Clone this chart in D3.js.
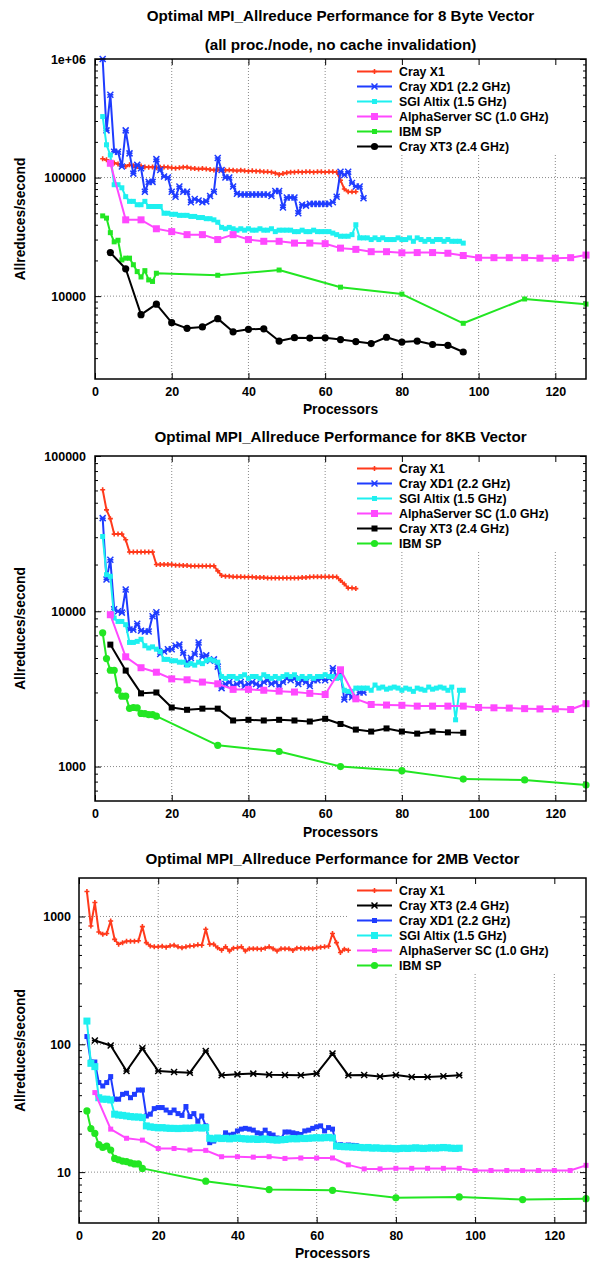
<!DOCTYPE html>
<html>
<head>
<meta charset="utf-8">
<script src="https://cdn.jsdelivr.net/npm/d3@7"></script>
<style>
body { margin: 0; background: #fff; }
svg text { font-family: "Liberation Sans", Arial, Helvetica, sans-serif; font-weight: bold; fill: #000; }
</style>
</head>
<body>
<svg id="chart" width="597" height="1262"></svg>
<script>
// ---- processor counts ----
const procs2to68 = d3.range(2, 69);
const procs2to70 = d3.range(2, 71);
const procs2to96 = d3.range(2, 97);
const procsBy4to128 = d3.range(4, 129, 4);
const procsBy4to96 = d3.range(4, 97, 4);
const procsIbm = [2, 3, 4, 5, 6, 7, 8, 9, 10, 11, 12, 13, 14, 15, 16, 32, 48, 64, 80, 96, 112, 128];
const xTicks = [0, 20, 40, 60, 80, 100, 120];

// ---- 8 Byte vector ----
const byte8X1 = [144000, 141000, 137000, 133000, 130000, 127000, 124000, 128000, 126000, 124000, 125000, 123000, 122000, 123000,
  121000, 122000, 123000, 122000, 121000, 120000, 121000, 122000, 122000, 120000, 119000, 118000, 119000, 118000, 117000, 116000,
  117000, 116000, 115000, 116000, 115000, 114000, 115000, 114000, 113000, 114000, 113000, 113000, 112000, 112000, 111000, 109000,
  106000, 108000, 110000, 111000, 111000, 112000, 111000, 112000, 112000, 111000, 112000, 112000, 111000, 112000, 112000, 111000,
  95000, 80000, 76000, 76000, 76000];
const byte8Xd1 = [1000000, 250000, 500000, 165000, 165000, 124000, 250000, 160000, 108000, 128000, 120000, 76000, 92000, 92000,
  143000, 116000, 102000, 100000, 76000, 69000, 84000, 76000, 76000, 62000, 66000, 64000, 62000, 63000, 70000, 76000, 146000,
  116000, 100000, 100000, 84000, 73000, 72000, 72000, 72000, 72000, 72000, 72000, 72000, 72000, 70000, 77000, 77000, 56000, 68000,
  68000, 68000, 50000, 59000, 58000, 60000, 60000, 60000, 60000, 60000, 60000, 62000, 69000, 112000, 105000, 112000, 90000, 84000,
  84000, 67000];
const byte8Altix = [327000, 189000, 155000, 87000, 87000, 82000, 69000, 63000, 63000, 59000, 59000, 63000, 57000, 57000, 57000,
  57000, 50000, 50000, 49000, 49000, 48000, 48000, 48000, 47000, 47000, 46000, 46000, 45000, 45000, 44000, 42000, 38000, 37000,
  38000, 37000, 36000, 37000, 36000, 37000, 36000, 36000, 37000, 36000, 36000, 37000, 35000, 36000, 36000, 36000, 36000, 35000,
  35000, 36000, 35000, 35000, 36000, 35000, 35000, 35000, 35000, 34000, 33000, 32000, 32000, 32000, 33000, 40000, 31000, 31000,
  31000, 30000, 31000, 30000, 31000, 30000, 30000, 30000, 31000, 30000, 30000, 31000, 29000, 31000, 30000, 29000, 30000, 29000,
  30000, 30000, 29000, 30000, 29000, 29000, 29000, 28000];
const byte8Alpha = [132000, 44000, 44000, 37000, 35000, 33000, 33000, 30000, 33000, 30000, 29000, 29000, 28000, 28000, 27700,
  25400, 24800, 23700, 23700, 23200, 23300, 23300, 23000, 22000, 21100, 21100, 21100, 21100, 20900, 20900, 21100, 22200];
const byte8Ibm = [47500, 45500, 34300, 28700, 29600, 20200, 20900, 20900, 18400, 16100, 14500, 16400, 13700, 13300, 15600,
  15000, 16600, 11900, 10400, 5900, 9460, 8560];
const byte8Xt3 = [23300, 17000, 6980, 8550, 5970, 5350, 5500, 6460, 5000, 5250, 5300, 4180, 4460, 4430, 4450, 4300, 4140,
  3980, 4500, 4100, 4180, 3910, 3850, 3380];

// ---- 8KB vector ----
const kb8X1 = [60600, 45000, 39500, 31400, 31400, 31400, 28900, 24100, 24100, 24100, 24100, 24100, 24100, 24100, 20000, 20000,
  20000, 20000, 20000, 19800, 19800, 19700, 19700, 19600, 19600, 19600, 19600, 19600, 19600, 19600, 18200, 17000, 16800, 16800,
  16700, 16700, 16700, 16600, 16600, 16600, 16500, 16500, 16500, 16400, 16400, 16400, 16400, 16400, 16400, 16400, 16400, 16400,
  16500, 16500, 16600, 16700, 16700, 16700, 16700, 16700, 16700, 16600, 15800, 15000, 14100, 14100, 14000];
const kb8Xd1 = [39800, 16000, 21500, 10300, 10000, 9800, 13800, 7630, 7600, 8300, 7500, 7400, 7400, 9300, 9850, 5300, 5500,
  5700, 5700, 6000, 6100, 5400, 4600, 5000, 5300, 6300, 5100, 5200, 4800, 4900, 4400, 3200, 3400, 3500, 3300, 3400, 3500, 3300,
  3400, 3500, 3400, 3300, 3500, 3600, 3400, 3500, 3300, 3500, 3700, 3600, 3700, 3400, 3600, 3500, 3300, 3600, 3600, 3700, 3600,
  3700, 4300, 3800, 4000, 2700, 3000, 2800, 2800, 3000, 3000];
const kb8Altix = [30300, 17200, 16800, 9050, 8600, 8600, 8200, 6300, 6300, 6400, 6600, 6000, 5800, 5900, 5700, 5500, 4900, 4900,
  4800, 4800, 4700, 4700, 4500, 4600, 4500, 4700, 4600, 4800, 4900, 4800, 4700, 3800, 3700, 3800, 3800, 3700, 3800, 3900, 3700,
  3800, 3800, 3700, 3900, 3800, 3700, 3800, 3700, 3800, 3900, 3800, 3900, 3700, 3800, 3700, 3800, 3700, 3800, 3800, 3900, 3800,
  3800, 3700, 3800, 3100, 3050, 3050, 3200, 3200, 3200, 3200, 3100, 3350, 3200, 3250, 3150, 3200, 3250, 3200, 3100, 3200, 3150,
  3050, 3200, 3150, 3100, 3250, 3150, 3200, 3250, 3200, 3100, 3250, 2000, 3100, 3100];
const kb8Alpha = [9500, 5090, 4330, 4050, 3670, 3620, 3500, 3410, 3140, 3140, 3100, 3060, 3020, 2960, 2910, 4200, 2730, 2510,
  2490, 2480, 2450, 2450, 2450, 2450, 2400, 2390, 2380, 2360, 2350, 2350, 2330, 2540];
const kb8Xt3 = [6100, 4150, 2960, 3000, 2400, 2320, 2360, 2360, 1980, 2000, 1980, 2000, 1980, 1950, 2030, 1880, 1730, 1680,
  1760, 1680, 1630, 1680, 1660, 1650];
const kb8Ibm = [7260, 4960, 4170, 4170, 3100, 2840, 2840, 2370, 2400, 2390, 2200, 2190, 2160, 2160, 2110, 1370, 1250, 1000,
  940, 830, 820, 760];

// ---- 2MB vector ----
const mb2X1 = [1567, 843, 1285, 757, 725, 735, 922, 662, 606, 624, 640, 640, 640, 645, 833, 624, 588, 580, 580, 585, 575, 590,
  595, 580, 570, 580, 588, 590, 600, 595, 794, 606, 606, 570, 545, 580, 537, 565, 570, 580, 537, 560, 560, 560, 555, 565, 580,
  560, 537, 560, 560, 560, 543, 565, 565, 560, 565, 560, 570, 575, 580, 585, 735, 624, 523, 555, 545];
const mb2Xt3 = [107, 98, 61.8, 93, 61.8, 60.7, 60, 88.6, 57.2, 58.2, 59, 57.9, 57.5, 57.2, 59, 84.6, 57.2, 57.5, 55.9, 57.5,
  55.5, 55.5, 56.2, 57.2];
const mb2Xd1 = [115, 72.7, 72.7, 50.2, 47.2, 50.2, 55.9, 37.2, 37.2, 40.6, 41.4, 38.2, 40.6, 43.9, 43.9, 27.5, 28.4, 31.4, 32,
  32, 30.6, 29.2, 30.6, 28.7, 27.8, 32.6, 27.2, 28.7, 25, 27.5, 23, 17, 17.5, 18.6, 18.6, 20.3, 19.5, 19.8, 21, 21.7, 22, 21.7,
  21.3, 20.3, 20, 21.3, 20, 19.5, 18.5, 18.3, 20.6, 20.6, 20.3, 20, 19.7, 21, 21.3, 22, 22.6, 23, 21, 22.3, 21.7, 16.2, 16.4,
  16.2, 16.3, 16.2, 16.1];
const mb2Altix = [152, 71, 66.9, 38.2, 37.2, 37.2, 36.7, 28.4, 28, 27.8, 27.5, 27.2, 27, 27, 26.7, 23, 22.6, 22.4, 22.2, 22.3,
  22.1, 22, 22, 21.9, 22, 22.1, 22, 22.2, 22.3, 22.1, 22.3, 18.4, 18.2, 18.5, 18.3, 18.4, 18.2, 18.4, 18.5, 18.3, 18.2, 18.1,
  18.2, 18, 18.1, 18.2, 18, 17.9, 17.8, 17.9, 18, 18.2, 18.3, 18.2, 18.4, 18.3, 18.4, 18.5, 18.6, 18.5, 18.6, 18.7, 18.5, 16,
  15.9, 15.8, 15.8, 15.7, 15.7, 15.6, 15.5, 15.6, 15.4, 15.5, 15.4, 15.3, 15.4, 15.3, 15.2, 15.3, 15.4, 15.3, 15.4, 15.5, 15.4,
  15.3, 15.4, 15.5, 15.4, 15.5, 15.6, 15.5, 15.4, 15.3, 15.4];
const mb2Alpha = [41.9, 21.7, 18.4, 17.8, 15.3, 15.3, 14.9, 14.8, 13.2, 13.2, 13.1, 13.2, 12.8, 12.9, 12.9, 12.9, 11.4, 10.6,
  10.6, 10.7, 10.7, 10.7, 10.7, 10.7, 10.3, 10.3, 10.3, 10.3, 10.3, 10.3, 10.3, 11.3];
const mb2Ibm = [30.1, 21.9, 20.1, 16.4, 15.6, 16, 14.9, 12.8, 12.5, 12.2, 12.1, 11.8, 11.6, 11.6, 10.7, 8.5, 7.3, 7.2, 6.3, 6.4,
  6.1, 6.2];

const colors = {
  x1: '#ff3a1c', xd1: '#1f3cff', altix: '#1ef0f0', alpha: '#ff48ff', ibm: '#22e622', xt3: '#000000'
};

const panels = [
  {
    titles: [['Optimal MPI_Allreduce Performance for 8 Byte Vector', 20.5], ['(all proc./node, no cache invalidation)', 50]],
    left: 95, right: 586, top: 59, bottom: 379, yDomain: [2000, 1e6],
    yTicks: [1e4, 1e5, 1e6], yLabels: ['10000', '100000', '1e+06'], yPad: 9,
    tickBase: 396, xLabelBase: 413.5, yLabelMid: 219,
    series: [
      {name: 'Cray X1', c: colors.x1, m: 'plus', s: 2.5, x: procs2to68, y: byte8X1},
      {name: 'Cray XD1 (2.2 GHz)', c: colors.xd1, m: 'star', s: 3, x: procs2to70, y: byte8Xd1},
      {name: 'SGI Altix (1.5 GHz)', c: colors.altix, m: 'sq', s: 5, x: procs2to96, y: byte8Altix},
      {name: 'AlphaServer SC (1.0 GHz)', c: colors.alpha, m: 'sq', s: 7, x: procsBy4to128, y: byte8Alpha},
      {name: 'IBM SP', c: colors.ibm, m: 'sq', s: 5, x: procsIbm, y: byte8Ibm},
      {name: 'Cray XT3 (2.4 GHz)', c: colors.xt3, m: 'circ', s: 3.6, x: procsBy4to96, y: byte8Xt3}
    ]
  },
  {
    titles: [['Optimal MPI_Allreduce Performance for 8KB Vector', 441.5]],
    left: 95, right: 586, top: 456, bottom: 801, yDomain: [600, 1e5],
    yTicks: [1e3, 1e4, 1e5], yLabels: ['1000', '10000', '100000'], yPad: 9,
    tickBase: 818, xLabelBase: 836.5, yLabelMid: 628.5,
    series: [
      {name: 'Cray X1', c: colors.x1, m: 'plus', s: 2.5, x: procs2to68, y: kb8X1},
      {name: 'Cray XD1 (2.2 GHz)', c: colors.xd1, m: 'star', s: 3, x: procs2to70, y: kb8Xd1},
      {name: 'SGI Altix (1.5 GHz)', c: colors.altix, m: 'sq', s: 5, x: procs2to96, y: kb8Altix},
      {name: 'AlphaServer SC (1.0 GHz)', c: colors.alpha, m: 'sq', s: 7, x: procsBy4to128, y: kb8Alpha},
      {name: 'Cray XT3 (2.4 GHz)', c: colors.xt3, m: 'sq', s: 6, x: procsBy4to96, y: kb8Xt3},
      {name: 'IBM SP', c: colors.ibm, m: 'circ', s: 3.6, x: procsIbm, y: kb8Ibm}
    ]
  },
  {
    titles: [['Optimal MPI_Allreduce Performance for 2MB Vector', 864]],
    left: 79, right: 586, top: 878, bottom: 1223, yDomain: [4, 2000],
    yTicks: [10, 100, 1000], yLabels: ['10', '100', '1000'], yPad: 8,
    tickBase: 1240, xLabelBase: 1258, yLabelMid: 1050.5,
    series: [
      {name: 'Cray X1', c: colors.x1, m: 'plus', s: 2.5, x: procs2to68, y: mb2X1},
      {name: 'Cray XT3 (2.4 GHz)', c: colors.xt3, m: 'star', s: 3, x: procsBy4to96, y: mb2Xt3},
      {name: 'Cray XD1 (2.2 GHz)', c: colors.xd1, m: 'sq', s: 5, x: procs2to70, y: mb2Xd1},
      {name: 'SGI Altix (1.5 GHz)', c: colors.altix, m: 'sq', s: 7, x: procs2to96, y: mb2Altix},
      {name: 'AlphaServer SC (1.0 GHz)', c: colors.alpha, m: 'sq', s: 5, x: procsBy4to128, y: mb2Alpha},
      {name: 'IBM SP', c: colors.ibm, m: 'circ', s: 3.6, x: procsIbm, y: mb2Ibm}
    ]
  }
];

const svg = d3.select('#chart');

function drawMarker(sel, s) {
  if (s.m === 'plus') {
    sel.append('path').attr('d', `M${-s.s},0H${s.s}M0,${-s.s}V${s.s}`)
      .attr('stroke', s.c).attr('stroke-width', 1.6).attr('fill', 'none');
  } else if (s.m === 'star') {
    const k = s.s;
    sel.append('path').attr('d', `M${-k},${-k}L${k},${k}M${-k},${k}L${k},${-k}M${-k},0H${k}`)
      .attr('stroke', s.c).attr('stroke-width', 1.5).attr('fill', 'none');
  } else if (s.m === 'sq') {
    sel.append('rect').attr('x', -s.s / 2).attr('y', -s.s / 2).attr('width', s.s).attr('height', s.s)
      .attr('fill', s.c);
  } else {
    sel.append('circle').attr('r', s.s).attr('fill', s.c);
  }
}

function minorTicks(domain) {
  const out = [];
  let d = Math.pow(10, Math.floor(Math.log10(domain[0])));
  while (d < domain[1]) {
    for (let k = 2; k <= 9; k++) {
      const v = k * d;
      if (v > domain[0] && v < domain[1]) out.push(v);
    }
    d *= 10;
  }
  return out;
}

function drawPanel(p) {
  const x = d3.scaleLinear().domain([0, 128]).range([p.left, p.right]);
  const y = d3.scaleLog().domain(p.yDomain).range([p.bottom, p.top]);
  const g = svg.append('g');

  // grid
  g.selectAll('.gx').data(xTicks.filter(t => t > 0)).join('line')
    .attr('x1', d => x(d)).attr('x2', d => x(d)).attr('y1', p.top).attr('y2', p.bottom)
    .attr('stroke', '#8a8a8a').attr('stroke-width', 1).attr('stroke-dasharray', '1,2');
  g.selectAll('.gy').data(p.yTicks.filter(t => y(t) > p.top + 1)).join('line')
    .attr('x1', p.left).attr('x2', p.right).attr('y1', d => y(d)).attr('y2', d => y(d))
    .attr('stroke', '#8a8a8a').attr('stroke-width', 1).attr('stroke-dasharray', '1,2');

  // legend backdrop covers the grid
  g.append('rect').attr('x', 347).attr('y', p.top + 1).attr('width', p.right - 348).attr('height', 94)
    .attr('fill', '#fff');

  // axes with inward ticks on all sides
  const fmt = d => p.yLabels[p.yTicks.indexOf(d)];
  g.append('g').attr('transform', `translate(0,${p.bottom})`)
    .call(d3.axisBottom(x).tickValues(xTicks).tickSizeInner(-6).tickSizeOuter(0).tickPadding(8.2))
    .call(a => a.select('.domain').remove())
    .call(a => a.selectAll('text').attr('font-size', 12.5).attr('fill', '#000'));
  g.append('g').attr('transform', `translate(0,${p.top})`)
    .call(d3.axisTop(x).tickValues(xTicks).tickSizeInner(-6).tickSizeOuter(0).tickFormat(''))
    .call(a => a.select('.domain').remove());
  g.append('g').attr('transform', `translate(${p.left},0)`)
    .call(d3.axisLeft(y).tickValues(p.yTicks).tickFormat(fmt).tickSizeInner(-6).tickSizeOuter(0).tickPadding(p.yPad))
    .call(a => a.select('.domain').remove())
    .call(a => a.selectAll('text').attr('font-size', 12.5).attr('fill', '#000'));
  g.append('g').attr('transform', `translate(${p.left},0)`)
    .call(d3.axisLeft(y).tickValues(minorTicks(p.yDomain)).tickFormat('').tickSizeInner(-3).tickSizeOuter(0))
    .call(a => a.select('.domain').remove());
  g.append('g').attr('transform', `translate(${p.right},0)`)
    .call(d3.axisRight(y).tickValues(p.yTicks).tickFormat('').tickSizeInner(-6).tickSizeOuter(0))
    .call(a => a.select('.domain').remove());
  g.append('g').attr('transform', `translate(${p.right},0)`)
    .call(d3.axisRight(y).tickValues(minorTicks(p.yDomain)).tickFormat('').tickSizeInner(-3).tickSizeOuter(0))
    .call(a => a.select('.domain').remove());

  // series
  const line = d3.line().x(d => x(d[0])).y(d => y(d[1]));
  p.series.forEach(s => {
    const pts = s.x.map((v, i) => [v, s.y[i]]);
    g.append('path').datum(pts).attr('d', line)
      .attr('fill', 'none').attr('stroke', s.c).attr('stroke-width', 2).attr('stroke-linejoin', 'round');
    g.append('g').selectAll('g').data(pts).join('g')
      .attr('transform', d => `translate(${x(d[0])},${y(d[1])})`)
      .each(function () { drawMarker(d3.select(this), s); });
  });

  // frame
  g.append('rect').attr('x', p.left).attr('y', p.top).attr('width', p.right - p.left).attr('height', p.bottom - p.top)
    .attr('fill', 'none').attr('stroke', '#000').attr('stroke-width', 1.5);

  // legend
  const leg = g.append('g');
  p.series.forEach((s, i) => {
    const ly = p.top + 12.5 + i * 15;
    leg.append('line').attr('x1', 357).attr('x2', 392).attr('y1', ly).attr('y2', ly)
      .attr('stroke', s.c).attr('stroke-width', 2);
    drawMarker(leg.append('g').attr('transform', `translate(374.5,${ly})`), s);
    leg.append('text').attr('x', 399).attr('y', ly).attr('dy', '0.35em').attr('font-size', 12.3).text(s.name);
  });

  // titles and axis labels
  const cx = (p.left + p.right) / 2;
  p.titles.forEach(t => {
    g.append('text').attr('x', cx).attr('y', t[1]).attr('text-anchor', 'middle').attr('font-size', 15.2).text(t[0]);
  });
  g.append('text').attr('x', cx).attr('y', p.xLabelBase).attr('text-anchor', 'middle').attr('font-size', 13.8)
    .text('Processors');
  g.append('text').attr('transform', `translate(25,${p.yLabelMid}) rotate(-90)`).attr('text-anchor', 'middle')
    .attr('font-size', 13.8).text('Allreduces/second');
}

panels.forEach(drawPanel);
</script>
</body>
</html>
